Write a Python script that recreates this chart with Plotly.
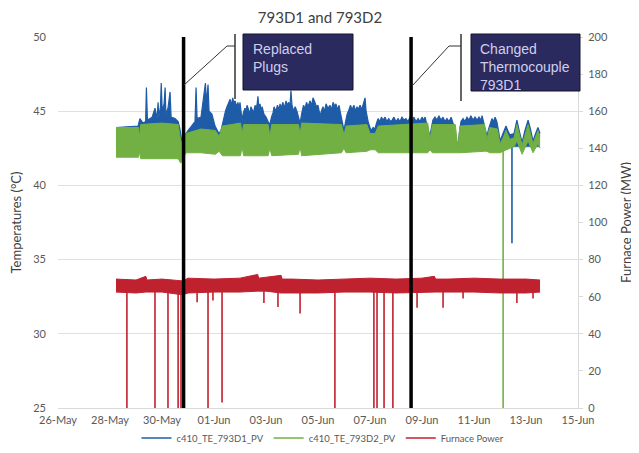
import pandas as pd
import plotly.graph_objects as go

BASE = pd.Timestamp("2015-05-26")

# ---- data: elapsed days since 26-May 00:00 ----
# 793D1 (blue) upper envelope
d1_t = [2.23, 3.08, 3.15, 3.27, 3.37, 3.40, 3.44, 3.62, 3.73, 3.81, 3.85, 3.88, 3.94, 3.97, 4.01,
        4.08, 4.12, 4.15, 4.23, 4.31, 4.35, 4.50, 4.62, 4.69, 4.77, 4.85, 5.00, 5.15, 5.27, 5.31,
        5.35, 5.50, 5.58, 5.63, 5.67, 5.71, 5.77, 5.81, 5.92, 6.04, 6.19, 6.27,
        6.33, 6.38, 6.44, 6.50, 6.56, 6.62, 6.67, 6.72, 6.77, 6.81, 6.87, 6.92, 6.96, 7.00, 7.04,
        7.08, 7.13, 7.19, 7.23, 7.27, 7.33, 7.38, 7.42, 7.46, 7.52, 7.58, 7.62, 7.66, 7.69, 7.73,
        7.77, 7.81, 7.85, 7.92, 8.00, 8.08, 8.15, 8.21, 8.27, 8.31, 8.38, 8.44, 8.50, 8.54, 8.58,
        8.65, 8.71, 8.77, 8.81, 8.87, 8.92, 8.96, 9.00, 9.06, 9.12, 9.19, 9.25, 9.31, 9.38, 9.44,
        9.50, 9.56, 9.62, 9.69, 9.75, 9.81, 9.88, 9.94, 10.00, 10.04, 10.08, 10.13, 10.19, 10.25,
        10.31, 10.38, 10.46, 10.52, 10.58, 10.65, 10.69, 10.75, 10.81, 10.85, 10.92, 11.00, 11.06,
        11.12, 11.19, 11.25, 11.31, 11.38, 11.44, 11.50, 11.54, 11.62, 11.68, 11.73, 11.81, 11.85,
        11.88, 11.94, 12.00, 12.06, 12.12, 12.19, 12.25, 12.31, 12.38, 12.44, 12.50, 12.58, 12.65,
        12.72, 12.79, 12.85, 12.92, 13.00, 13.08, 13.15, 13.23, 13.31, 13.38, 13.46, 13.54, 13.62,
        13.69, 13.77, 13.85, 13.92, 14.00, 14.06, 14.12, 14.20, 14.25, 14.31, 14.37, 14.42, 14.50,
        14.58, 14.65, 14.73, 14.81, 14.88, 14.96, 15.04, 15.12, 15.19, 15.23, 15.30, 15.38, 15.44,
        15.50, 15.58, 15.65, 15.73, 15.81, 15.88, 15.96, 16.04, 16.12, 16.19, 16.27, 16.31, 16.38,
        16.44, 16.50, 16.56, 16.62, 16.69, 16.75, 16.81, 16.88, 16.92, 16.96, 17.00, 17.06, 17.12,
        17.18, 17.23, 17.30, 17.38, 17.54, 17.60, 17.65, 17.75, 17.85, 17.96, 18.08, 18.17, 18.27,
        18.37, 18.46, 18.54]
d1_hi = [43.9, 44.0, 44.5, 44.2, 44.3, 46.6, 44.4, 44.6, 45.2, 44.5, 45.6, 44.6, 45.3, 46.9, 45.0,
         45.5, 46.6, 44.8, 45.2, 46.3, 44.6, 44.5, 44.3, 43.8, 42.9, 43.3, 43.7, 44.0, 44.3, 46.6,
         44.5, 44.6, 45.6, 46.2, 46.9, 45.5, 46.8, 45.0, 44.8, 44.0, 43.5, 43.7,
         44.2, 44.5, 45.0, 45.3, 45.6, 45.8, 45.4, 45.9, 45.5, 45.7, 45.3, 45.6, 45.2, 45.6, 45.0,
         44.4, 44.9, 45.2, 45.0, 45.4, 45.1, 44.8, 45.3, 45.1, 44.9, 45.4, 45.2, 45.5, 46.0, 45.2,
         45.5, 45.0, 45.3, 44.8, 44.6, 44.3, 44.1, 44.6, 44.9, 45.3, 45.0, 45.4, 45.1, 45.5, 45.2,
         45.6, 45.2, 45.7, 45.4, 45.6, 45.3, 46.4, 45.4, 45.0, 45.3, 45.0, 44.6, 44.2, 44.9, 45.4,
         45.2, 45.6, 45.3, 45.7, 45.4, 45.9, 45.6, 45.3, 45.4, 45.0, 44.7, 45.0, 45.3, 45.0,
         45.5, 45.2, 45.4, 45.1, 45.6, 45.3, 45.5, 45.1, 45.4, 45.0, 44.4, 43.7, 44.3,
         44.8, 45.1, 45.4, 45.1, 45.4, 45.0, 45.3, 45.1, 45.4, 45.1, 45.4, 45.9, 45.0,
         44.7, 44.2, 43.9, 43.7, 43.9, 43.8, 44.2, 44.5, 44.3, 44.6, 44.4, 44.6, 44.3,
         44.5, 44.3, 44.4, 44.6, 44.3, 44.5, 44.3, 44.6, 44.4, 44.5, 44.3, 44.6, 44.4,
         44.6, 44.3, 44.5, 44.3, 44.6, 44.4, 44.6, 44.0, 43.6, 43.4, 43.9, 44.4, 44.6,
         44.4, 44.7, 44.4, 44.6, 44.3, 44.5, 44.3, 44.6, 44.2, 44.0, 43.2, 42.6, 43.6,
         44.3, 44.5, 44.3, 44.6, 44.4, 44.7, 44.4, 44.6, 44.4, 44.6, 44.4, 44.7, 44.2,
         43.6, 43.3, 43.8, 44.2, 44.5, 44.3, 44.6, 44.3, 44.0, 43.5, 43.0, 43.3, 43.5,
         43.8, 44.0, 43.7, 43.4, 43.5, 44.0, 44.4, 43.6, 42.9, 43.7, 44.4, 43.8, 43.0,
         43.5, 43.9, 43.5]
d1_lo_t = [2.23, 6.00, 10.00, 14.00, 18.54]
d1_lo = [42.6, 42.6, 42.6, 42.6, 42.6]
d1_drop_t = [17.46]
d1_drop_from = [43.4]
d1_drop_to = [36.1]

# 793D2 (green) envelope
d2_t = [2.23, 3.10, 3.14, 3.18, 4.00, 4.62, 4.72, 4.82, 4.92, 5.50, 6.05, 6.20, 6.32, 7.02, 7.08,
        7.14, 8.08, 8.15, 8.22, 9.25, 9.31, 9.37, 10.90, 11.00, 11.08, 11.88, 12.00, 12.20, 12.32,
        14.22, 14.31, 14.40, 15.28, 15.38, 15.46, 16.40, 16.50, 16.60, 16.90, 17.00, 17.12, 17.23,
        17.38, 17.54, 17.65, 17.85, 18.08, 18.27, 18.46, 18.54]
d2_hi = [43.9, 43.9, 43.2, 44.1, 44.2, 44.1, 43.0, 42.8, 43.5, 43.8, 43.7, 43.3, 44.0, 44.2, 43.5,
         44.1, 44.1, 43.3, 44.1, 44.1, 43.4, 44.2, 44.1, 43.4, 44.0, 44.1, 43.5, 43.5, 44.0,
         44.2, 43.1, 44.1, 44.1, 42.5, 44.0, 44.1, 43.1, 43.9, 43.8, 42.8, 43.2, 43.7,
         43.1, 43.2, 44.1, 42.7, 44.1, 42.8, 43.7, 43.3]
d2_lo = [41.9, 41.9, 42.3, 41.8, 41.8, 41.8, 41.5, 41.9, 42.2, 42.2, 42.1, 42.3, 42.0, 42.0, 42.6,
         42.0, 42.0, 42.5, 42.0, 42.1, 42.6, 42.0, 42.2, 42.5, 42.2, 42.3, 42.4, 42.4, 42.2,
         42.2, 42.4, 42.2, 42.2, 42.2, 42.2, 42.3, 42.3, 42.2, 42.2, 42.2, 42.3, 42.4,
         42.5, 42.6, 43.0, 42.1, 43.0, 42.2, 42.8, 42.5]
d2_drop_t = [17.12]
d2_drop_from = [42.6]
d2_drop_to = [25.0]

# Furnace power (red) envelope, MW
fp_t = [2.23, 3.00, 3.38, 3.42, 4.00, 4.80, 5.00, 6.00, 7.00, 7.68, 7.72, 8.00, 8.58, 8.62, 9.00,
        10.00, 11.00, 12.00, 13.00, 14.00, 14.48, 14.52, 15.00, 16.00, 17.00, 18.00, 18.54]
fp_hi = [69.5, 69.0, 71.0, 69.0, 69.5, 68.5, 70.0, 69.5, 70.0, 72.0, 70.0, 70.5, 71.5, 69.5, 69.5,
         69.0, 69.5, 70.0, 69.5, 70.0, 71.0, 69.5, 69.5, 70.0, 69.5, 69.5, 69.0]
fp_lo = [62.5, 62.0, 62.5, 62.5, 62.5, 61.0, 62.0, 62.5, 62.5, 63.0, 63.0, 63.0, 62.0, 62.0, 62.0,
         62.0, 62.5, 62.5, 62.0, 62.5, 62.5, 62.5, 62.5, 62.5, 62.0, 62.0, 62.5]
fp_drop_t = [2.65, 3.73, 4.23, 4.62, 4.73, 5.35, 5.77, 5.96, 6.31, 7.92, 8.46, 9.31, 10.65,
             12.15, 12.27, 12.54, 12.88, 13.81, 14.81, 15.58, 17.65, 18.27]
fp_drop_to = [0, 0, 0, 0, 0, 57, 0, 58, 3, 56.6, 54.5, 51, 0,
              0, 0, 0, 0, 54, 54, 59, 56.6, 59]

series_names = ["c410_TE_793D1_PV", "c410_TE_793D2_PV", "Furnace Power"]

# events
event_t = [4.83, 13.58]

BLUE = "#1f5ca8"
GREEN = "#72b043"
RED = "#c0212f"


def to_dt(days):
    return [BASE + pd.Timedelta(days=d) for d in days]


def segs(ts, y0s, y1s):
    xs, ys = [], []
    for t, a, b in zip(ts, y0s, y1s):
        dt = BASE + pd.Timedelta(days=t)
        xs += [dt, dt, None]
        ys += [a, b, None]
    return xs, ys


fig = go.Figure()

# blue band
fig.add_trace(go.Scatter(x=to_dt(d1_lo_t), y=d1_lo, mode="lines", line=dict(color=BLUE, width=0.5),
                         showlegend=False, hoverinfo="skip"))
fig.add_trace(go.Scatter(x=to_dt(d1_t), y=d1_hi, mode="lines", line=dict(color=BLUE, width=1.2),
                         fill="tonexty", fillcolor=BLUE, showlegend=False))
bx, by = segs(d1_drop_t, d1_drop_from, d1_drop_to)
fig.add_trace(go.Scatter(x=bx, y=by, mode="lines", line=dict(color=BLUE, width=1.6),
                         name=series_names[0], showlegend=True))

# green band
fig.add_trace(go.Scatter(x=to_dt(d2_t), y=d2_lo, mode="lines", line=dict(color=GREEN, width=1),
                         showlegend=False, hoverinfo="skip"))
fig.add_trace(go.Scatter(x=to_dt(d2_t), y=d2_hi, mode="lines", line=dict(color=GREEN, width=1),
                         fill="tonexty", fillcolor=GREEN, showlegend=False))
gx, gy = segs(d2_drop_t, d2_drop_from, d2_drop_to)
fig.add_trace(go.Scatter(x=gx, y=gy, mode="lines", line=dict(color=GREEN, width=1.6),
                         name=series_names[1], showlegend=True))

# red band on secondary axis
fig.add_trace(go.Scatter(x=to_dt(fp_t), y=fp_lo, mode="lines", line=dict(color=RED, width=1),
                         yaxis="y2", showlegend=False, hoverinfo="skip"))
fig.add_trace(go.Scatter(x=to_dt(fp_t), y=fp_hi, mode="lines", line=dict(color=RED, width=1),
                         fill="tonexty", fillcolor=RED, yaxis="y2", showlegend=False))
rx, ry = segs(fp_drop_t, [63.0] * len(fp_drop_t), fp_drop_to)
fig.add_trace(go.Scatter(x=rx, y=ry, mode="lines", line=dict(color=RED, width=1.6), yaxis="y2",
                         name=series_names[2], showlegend=True))

# The page places the figure at an 8px body offset; work in screen pixels.
OFF = 8
FW, FH = 639 - OFF, 453 - OFF
PL, PR, PT, PB = 58, 578, 37, 408  # plot area on screen


def px(x):
    return (x - PL) / float(PR - PL)


def py(y):
    return (PB - y) / float(PB - PT)


shapes = []
for t in event_t:
    dt = BASE + pd.Timedelta(days=t)
    shapes.append(dict(type="line", xref="x", yref="paper", x0=dt, x1=dt, y0=0, y1=1,
                       line=dict(color="black", width=3.5), layer="above"))

callouts = [
    dict(box=(243, 353, 34, 90), bar=(235, 34, 99), diag=((184, 85), (227, 46)),
         text="Replaced<br>Plugs", tx=251),
    dict(box=(471, 580, 34, 91), bar=(461, 34, 101), diag=((412, 86), (449, 46)),
         text="Changed<br>Thermocouple<br>793D1", tx=478),
]
annotations = []
for c in callouts:
    x0, x1, y0, y1 = c["box"]
    shapes.append(dict(type="rect", xref="paper", yref="paper", x0=px(x0), x1=px(x1), y0=py(y1), y1=py(y0),
                       fillcolor="#2b2a5e", line=dict(color="#15142e", width=1), layer="above"))
    bxp, by0, by1 = c["bar"]
    shapes.append(dict(type="line", xref="paper", yref="paper", x0=px(bxp), x1=px(bxp), y0=py(by0), y1=py(by1),
                       line=dict(color="#333333", width=1.5), layer="above"))
    (ax, ay), (cx, cy) = c["diag"]
    shapes.append(dict(type="line", xref="paper", yref="paper", x0=px(ax), y0=py(ay), x1=px(cx), y1=py(cy),
                       line=dict(color="#333333", width=1), layer="above"))
    shapes.append(dict(type="line", xref="paper", yref="paper", x0=px(cx), y0=py(cy), x1=px(bxp), y1=py(cy),
                       line=dict(color="#333333", width=1), layer="above"))
    annotations.append(dict(xref="paper", yref="paper", x=px(c["tx"]), y=py(39), xanchor="left", yanchor="top",
                            align="left", showarrow=False, text=c["text"],
                            font=dict(family="Liberation Sans, Arial, sans-serif", size=14, color="#cfcfee")))

FONT = "Lato, Open Sans, sans-serif"
fig.update_layout(
    width=FW, height=FH,
    margin=dict(l=PL - OFF, r=FW - (PR - OFF), t=PT - OFF, b=FH - (PB - OFF), autoexpand=False),
    paper_bgcolor="white", plot_bgcolor="white",
    title=dict(text="793D1 and 793D2", x=(320 - OFF) / FW, xanchor="center", y=1 - (18 - OFF) / FH,
               yanchor="middle", font=dict(family=FONT, size=15, color="#404040")),
    font=dict(family=FONT, color="#595959"),
    xaxis=dict(type="date", range=[BASE, BASE + pd.Timedelta(days=20)], tick0=BASE, dtick=2 * 86400000,
               tickformat="%d-%b", showgrid=False, showline=True, linecolor="#d9d9d9", linewidth=1,
               ticks="", ticklabelstandoff=2, tickfont=dict(size=11, color="#595959"), zeroline=False,
               automargin=False),
    yaxis=dict(range=[25, 50], dtick=5, showgrid=True, gridcolor="#e0e0e0", gridwidth=1, zeroline=False,
               showline=False, ticks="", ticklabelstandoff=11, tickfont=dict(size=11, color="#595959"),
               automargin=False,
               title=dict(text="Temperatures (°C)", font=dict(size=13, color="#404040"), standoff=10)),
    yaxis2=dict(range=[0, 200], dtick=20, overlaying="y", side="right", showgrid=False, zeroline=False,
                showline=True, linecolor="#d9d9d9", ticks="outside", ticklen=4, tickcolor="#d9d9d9",
                ticklabelstandoff=3, tickfont=dict(size=11, color="#595959"), automargin=False,
                title=dict(text="Furnace Power (MW)", font=dict(size=13, color="#404040"), standoff=14)),
    legend=dict(orientation="h", x=px(323), xanchor="center", y=py(438), yanchor="middle", traceorder="normal",
                font=dict(size=9.5, color="#595959"), itemwidth=30, bgcolor="rgba(0,0,0,0)"),
    shapes=shapes, annotations=annotations,
    showlegend=True,
)

fig.write_html("out.html")
